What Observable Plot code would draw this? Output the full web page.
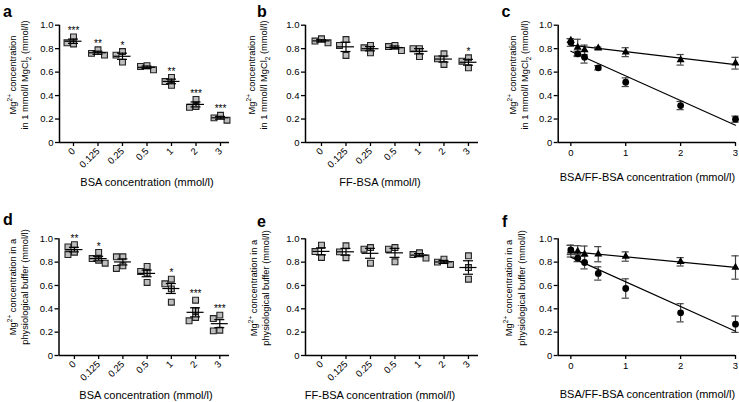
<!DOCTYPE html>
<html><head><meta charset="utf-8">
<script src="https://cdn.jsdelivr.net/npm/d3@7"></script>
<script src="https://cdn.jsdelivr.net/npm/@observablehq/plot@0.6"></script>
<style>
html,body{margin:0;padding:0;background:#fff;}
#fig{position:relative;width:739px;height:402px;overflow:hidden;font-family:"Liberation Sans",Arial,sans-serif;}
#fig svg{position:absolute;overflow:visible;}
</style></head><body><div id="fig"></div>
<script>
// ---------- data ----------
const categories = ["0","0.125","0.25","0.5","1","2","3"];
const concentrations = [0,0.125,0.25,0.5,1,2,3];
const yTicks = [0,0.2,0.4,0.6,0.8,1.0];

// a: BSA in 1 mmol/l MgCl2 (replicates per concentration)
const aValues = [[0.84,0.90,0.85],[0.79,0.745,0.76],[0.685,0.775,0.745],[0.655,0.62,0.648],[0.487,0.555,0.52],[0.30,0.367,0.307],[0.232,0.19,0.21]];
const aStars = ["***","**","*","","**","***","***"];
// b: FF-BSA in 1 mmol/l MgCl2
const bValues = [[0.884,0.85,0.865],[0.878,0.827,0.742],[0.827,0.807,0.765],[0.827,0.784,0.818],[0.80,0.80,0.733],[0.756,0.713,0.665],[0.722,0.693,0.637]];
const bStars = ["","","","","","","*"];
// c: means ± SD
const cBsaMean = [0.853,0.756,0.727,0.637,0.514,0.315,0.199];
const cBsaSd   = [0.033,0.023,0.05,0.018,0.037,0.035,0.026];
const cFfMean  = [0.87,0.81,0.79,0.804,0.77,0.705,0.676];
const cFfSd    = [0.015,0.07,0.04,0.01,0.038,0.045,0.05];
// d: BSA in physiological buffer
const dValues = [[0.93,0.95,0.865,0.885],[0.831,0.883,0.817,0.791],[0.846,0.846,0.769,0.746],[0.763,0.72,0.705,0.626],[0.654,0.614,0.571,0.457],[0.474,0.383,0.326,0.297],[0.346,0.317,0.211,0.217]];
const dStars = ["**","*","","","*","***","***"];
// e: FF-BSA in physiological buffer
const eValues = [[0.945,0.891,0.84],[0.94,0.888,0.838],[0.925,0.911,0.791],[0.925,0.911,0.803],[0.88,0.865,0.835],[0.825,0.78,0.80],[0.854,0.754,0.654]];
const eStars = ["","","","","","",""];
// f: means ± SD
const fBsaMean = [0.905,0.834,0.797,0.703,0.574,0.366,0.268];
const fBsaSd   = [0.04,0.03,0.055,0.057,0.083,0.078,0.07];
const fFfMean  = [0.894,0.891,0.868,0.868,0.848,0.803,0.754];
const fFfSd    = [0.05,0.05,0.07,0.065,0.04,0.036,0.1];

// ---------- helpers ----------
const fig = document.getElementById("fig");
const FONT = "'Liberation Sans', Arial, sans-serif";
const yFmt = d => d === 0 ? "0" : d.toFixed(1);

function place(svg, left, top) {
  svg.style.left = left + "px"; svg.style.top = top + "px";
  fig.appendChild(svg);
}

function dodge(vals, pxY, side) {
  const order = d3.range(vals.length).sort((a, b) => vals[b] - vals[a]);
  const placed = [], slot = new Array(vals.length);
  const slots = [0, -1, 1, -2, 2, -3, 3];
  for (const k of order) {
    for (const s of slots) {
      if (placed.every(p => p.s !== s || Math.abs(vals[p.k] - vals[k]) * pxY >= side)) {
        slot[k] = s; placed.push({k, s}); break;
      }
    }
  }
  return slot;
}

function catPanel({values, stars, left, top, width, height, mt, mb, ml, mr, xdom}) {
  const pxY = height - mt - mb;
  const pxX = (width - ml - mr) / (xdom[1] - xdom[0]);
  const side = 6.5;
  const pts = [], stats = [];
  values.forEach((vals, i) => {
    const slots = dodge(vals, pxY, side);
    vals.forEach((v, j) => pts.push({i, v, x: i + slots[j] * side / pxX}));
    const mean = d3.mean(vals), sem = d3.deviation(vals) / Math.sqrt(vals.length);
    stats.push({i, mean, sem, max: d3.max(vals), star: stars[i]});
  });
  const hw = 8.5 / pxX, cw = 5 / pxX;
  const svg = Plot.plot({
    width, height, marginTop: mt, marginBottom: mb, marginLeft: ml, marginRight: mr,
    style: {fontFamily: FONT, fontSize: "9.5px", color: "#000", background: "transparent", overflow: "visible"},
    x: {type: "linear", domain: xdom},
    y: {domain: [0, 1]},
    marks: [
      Plot.axisY({ticks: yTicks, tickFormat: yFmt, tickSize: 4, tickPadding: 2, label: null, strokeWidth: 1.3}),
      Plot.axisX({ticks: d3.range(categories.length), tickFormat: i => categories[i], tickRotate: -45, tickSize: 4, tickPadding: 3, label: null, strokeWidth: 1.3}),
      Plot.ruleX([xdom[0]], {y1: 0, y2: 1, strokeWidth: 1.5}),
      Plot.ruleY([0], {x1: xdom[0], x2: xdom[1], strokeWidth: 1.5}),
      Plot.dot(pts, {x: "x", y: "v", symbol: "square", r: 3.3, fill: "#bdbdbd", stroke: "#222", strokeWidth: 1.1}),
      Plot.ruleY(stats, {y: "mean", x1: d => d.i - hw, x2: d => d.i + hw, strokeWidth: 1.2}),
      Plot.ruleX(stats, {x: "i", y1: d => d.mean - d.sem, y2: d => d.mean + d.sem, strokeWidth: 1.2}),
      Plot.ruleY(stats, {y: d => d.mean + d.sem, x1: d => d.i - cw, x2: d => d.i + cw, strokeWidth: 1.2}),
      Plot.ruleY(stats, {y: d => d.mean - d.sem, x1: d => d.i - cw, x2: d => d.i + cw, strokeWidth: 1.2}),
      Plot.text(stats.filter(d => d.star), {x: "i", y: "max", text: "star", dy: -6, fontSize: 10, lineAnchor: "middle", fill: "#000"})
    ]
  });
  place(svg, left, top);
}

function linePanel({bsaMean, bsaSd, ffMean, ffSd, left, top, width, height, mt, mb, ml, mr, xdom}) {
  const pxX = (width - ml - mr) / (xdom[1] - xdom[0]);
  const cw = 3.6 / pxX;
  const bsa = concentrations.map((x, i) => ({x, m: bsaMean[i], s: bsaSd[i]}));
  const ff = concentrations.map((x, i) => ({x, m: ffMean[i], s: ffSd[i]}));
  const errs = (data) => [
    Plot.ruleX(data, {x: "x", y1: d => d.m - d.s, y2: d => d.m + d.s, stroke: "#444", strokeWidth: 1.2}),
    Plot.ruleY(data, {y: d => d.m + d.s, x1: d => d.x - cw, x2: d => d.x + cw, stroke: "#444", strokeWidth: 1.2}),
    Plot.ruleY(data, {y: d => d.m - d.s, x1: d => d.x - cw, x2: d => d.x + cw, stroke: "#444", strokeWidth: 1.2})
  ];
  const svg = Plot.plot({
    width, height, marginTop: mt, marginBottom: mb, marginLeft: ml, marginRight: mr,
    style: {fontFamily: FONT, fontSize: "9.5px", color: "#000", background: "transparent", overflow: "visible"},
    x: {type: "linear", domain: xdom},
    y: {domain: [0, 1]},
    marks: [
      Plot.axisY({ticks: yTicks, tickFormat: yFmt, tickSize: 4, tickPadding: 2, label: null, strokeWidth: 1.3}),
      Plot.axisX({ticks: [0, 1, 2, 3], tickFormat: d => String(d), tickSize: 4, tickPadding: 3, label: null, strokeWidth: 1.3}),
      Plot.ruleX([xdom[0]], {y1: 0, y2: 1, strokeWidth: 1.5}),
      Plot.ruleY([0], {x1: xdom[0], x2: xdom[1], strokeWidth: 1.5}),
      ...errs(ff), ...errs(bsa),
      Plot.linearRegressionY(ff, {x: "x", y: "m", ci: 0, stroke: "#000", strokeWidth: 1.2}),
      Plot.linearRegressionY(bsa, {x: "x", y: "m", ci: 0, stroke: "#000", strokeWidth: 1.2}),
      Plot.dot(ff, {x: "x", y: "m", symbol: "triangle", r: 3, fill: "#000"}),
      Plot.dot(bsa, {x: "x", y: "m", symbol: "circle", r: 3.4, fill: "#000"})
    ]
  });
  place(svg, left, top);
}

// ---------- panels ----------
catPanel({values: aValues, stars: aStars, left: 0, top: 0, width: 240, height: 200, mt: 24.7, mb: 58, ml: 59, mr: 11, xdom: [-0.571, 6.367]});
catPanel({values: bValues, stars: bStars, left: 240, top: 0, width: 250, height: 200, mt: 24.7, mb: 58, ml: 65, mr: 12, xdom: [-0.653, 6.41]});
linePanel({bsaMean: cBsaMean, bsaSd: cBsaSd, ffMean: cFfMean, ffSd: cFfSd, left: 490, top: 0, width: 249, height: 200, mt: 24.7, mb: 58, ml: 67.7, mr: 4, xdom: [-0.23, 3]});
catPanel({values: dValues, stars: dStars, left: 0, top: 200, width: 240, height: 202, mt: 38.3, mb: 47, ml: 58.5, mr: 11, xdom: [-0.637, 6.4]});
catPanel({values: eValues, stars: eStars, left: 240, top: 200, width: 250, height: 202, mt: 38.3, mb: 47, ml: 65, mr: 12, xdom: [-0.653, 6.41]});
linePanel({bsaMean: fBsaMean, bsaSd: fBsaSd, ffMean: fFfMean, ffSd: fFfSd, left: 490, top: 200, width: 249, height: 202, mt: 38.3, mb: 47, ml: 67.7, mr: 4, xdom: [-0.23, 3]});

// ---------- text overlay ----------
const ov = d3.select(fig).append("svg").attr("width", 739).attr("height", 402)
  .style("left", "0px").style("top", "0px").style("font-family", FONT).style("pointer-events", "none");

const letters = [["a", 3, 17], ["b", 257, 17], ["c", 501.5, 17], ["d", 3, 225], ["e", 257, 226.5], ["f", 502, 226.5]];
letters.forEach(([t, x, y]) => ov.append("text").attr("x", x).attr("y", y).attr("font-size", 16).attr("font-weight", "bold").attr("fill", "#000").text(t));

const xTitles = [["BSA concentration (mmol/l)", 147, 186], ["FF-BSA (mmol/l)", 380, 186], ["BSA/FF-BSA concentration (mmol/l)", 647.5, 181],
  ["BSA concentration (mmol/l)", 146, 399], ["FF-BSA concentration (mmol/l)", 380, 399], ["BSA/FF-BSA concentration (mmol/l)", 647.5, 398]];
xTitles.forEach(([t, x, y]) => ov.append("text").attr("x", x).attr("y", y).attr("font-size", 11).attr("text-anchor", "middle").attr("fill", "#000").text(t));

function yTitle(parts, x, y) {
  const t = ov.append("text").attr("transform", `translate(${x},${y}) rotate(-90)`)
    .attr("font-size", 9.3).attr("text-anchor", "middle").attr("dominant-baseline", "central").attr("fill", "#000");
  parts.forEach(([s, kind]) => {
    const ts = t.append("tspan").text(s);
    if (kind === "sup") ts.attr("font-size", 6.5).attr("baseline-shift", "super");
    if (kind === "sub") ts.attr("font-size", 6.5).attr("baseline-shift", "sub");
  });
}
const topL1 = [["Mg"], ["2+", "sup"], [" concentration"]];
const topL2 = [["in 1 mmol/l MgCl"], ["2", "sub"], [" (mmol/l)"]];
const botL1 = [["Mg"], ["2+", "sup"], [" concentration in a"]];
const botL2 = [["physiological buffer (mmol/l)"]];
[[13.3, 25, 75], [252, 264, 75], [512.5, 525, 75]].forEach(([x1, x2, y]) => { yTitle(topL1, x1, y); yTitle(topL2, x2, y); });
[[12.5, 24.5, 287], [253.7, 265.5, 288], [509, 521.5, 288]].forEach(([x1, x2, y]) => { yTitle(botL1, x1, y); yTitle(botL2, x2, y); });
</script>
</body></html>
